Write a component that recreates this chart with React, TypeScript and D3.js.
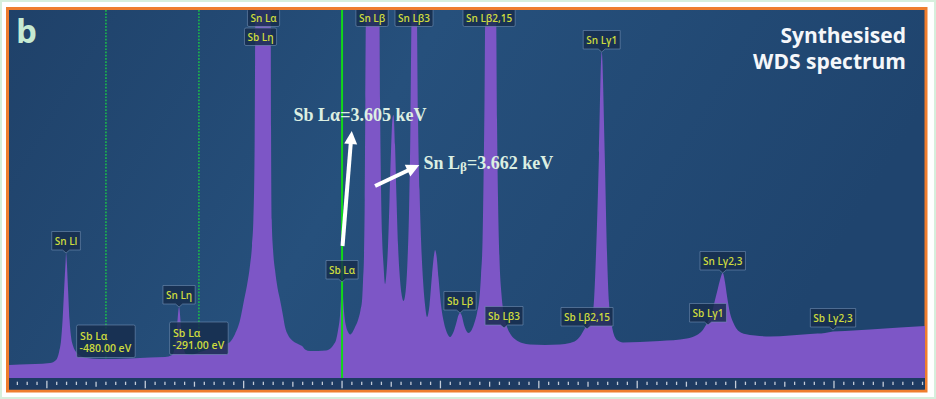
import React from "react";
import * as d3 from "d3";

const W = 936;
const H = 399;

// Traced spectrum: energy (keV) and intensity (counts)
const energyKeV = [
  2.9282, 2.9505, 2.981, 3.0115, 3.0237, 3.0298, 3.0339, 3.0369, 3.04, 3.043, 3.044, 3.0455, 3.0481, 3.0511,
  3.0542, 3.0583, 3.0644, 3.0725, 3.0867, 3.1131, 3.1436, 3.1741, 3.1944, 3.2148, 3.2453, 3.2595, 3.2656,
  3.2696, 3.2737, 3.2778, 3.2818, 3.2879, 3.3001, 3.3164, 3.3367, 3.357, 3.3692, 3.3774, 3.3875, 3.3977,
  3.4058, 3.4119, 3.418, 3.4221, 3.4247, 3.4272, 3.4282, 3.429, 3.4444, 3.4599, 3.4607, 3.4621, 3.4648,
  3.4688, 3.4739, 3.479, 3.4851, 3.4891, 3.4952, 3.5028, 3.5115, 3.5196, 3.5237, 3.5298, 3.54, 3.5562,
  3.5725, 3.5826, 3.5887, 3.5928, 3.5969, 3.6009, 3.603, 3.605, 3.607, 3.6091, 3.6131, 3.6172, 3.6213,
  3.6253, 3.6314, 3.6375, 3.6426, 3.6457, 3.6477, 3.6497, 3.6511, 3.6524, 3.6538, 3.667, 3.6808, 3.6822,
  3.6843, 3.6863, 3.6893, 3.6924, 3.6954, 3.6985, 3.7015, 3.7046, 3.7076, 3.7097, 3.7127, 3.7158, 3.7188,
  3.7229, 3.727, 3.73, 3.7341, 3.7381, 3.7412, 3.7442, 3.7467, 3.7513, 3.7568, 3.7595, 3.7625, 3.7656,
  3.7696, 3.7737, 3.7778, 3.7828, 3.7879, 3.792, 3.794, 3.7971, 3.8011, 3.8062, 3.8123, 3.8184, 3.8245,
  3.8306, 3.8367, 3.8418, 3.8448, 3.8479, 3.853, 3.8591, 3.8621, 3.8672, 3.8733, 3.8794, 3.8845, 3.8875,
  3.8906, 3.8926, 3.8946, 3.8963, 3.9058, 3.918, 3.92, 3.9221, 3.9251, 3.9292, 3.9343, 3.9404, 3.9485,
  3.9587, 3.9709, 3.9871, 4.0176, 4.0481, 4.0684, 4.0806, 4.0908, 4.099, 4.107, 4.1131, 4.1172, 4.1213,
  4.1274, 4.1328, 4.1389, 4.1436, 4.1477, 4.1538, 4.1639, 4.1761, 4.2107, 4.2513, 4.3061, 4.3265, 4.3367,
  4.3448, 4.3509, 4.357, 4.3631, 4.3672, 4.3733, 4.3788, 4.3834, 4.3875, 4.3936, 4.3997, 4.4058, 4.4139,
  4.4241, 4.4444, 4.4749, 4.5156, 4.5562, 4.5867, 4.603, 4.6273, 4.6782, 4.7391, 4.79,
];
const intensity = [
  130, 135, 140, 150, 180, 260, 380, 580, 880, 1160, 1250, 1160, 880, 580,
  410, 320, 260, 225, 200, 190, 190, 195, 200, 205, 210, 230, 330,
  500, 710, 500, 330, 240, 235, 260, 290, 315, 340, 360, 440, 580,
  780, 930, 1130, 1330, 1580, 2280, 3180, 3730, 3980, 3730, 2480, 1580, 1280,
  1080, 900, 780, 620, 510, 430, 380, 350, 330, 320, 285, 270, 270,
  275, 300, 340, 380, 480, 630, 800, 960, 810, 660, 520, 460, 435,
  450, 510, 580, 680, 780, 980, 1250, 1780, 2780, 3730, 3980, 3730, 2780,
  1880, 1430, 1130, 940, 1060, 1330, 1780, 2280, 2600, 2630, 2330, 1780, 1330,
  980, 810, 770, 860, 1180, 1680, 2580, 3730, 3980, 3730, 2580, 1880, 1380,
  980, 730, 610, 730, 1030, 1230, 1280, 1220, 1000, 730, 550, 450, 410,
  450, 540, 630, 650, 630, 530, 460, 450, 470, 540, 650, 810, 1030,
  1380, 1980, 2780, 3730, 3980, 3730, 2580, 1780, 1180, 830, 630, 510, 430,
  380, 350, 335, 330, 335, 350, 375, 430, 500, 550, 600, 780, 1250,
  2250, 3260, 2250, 1250, 750, 510, 380, 355, 360, 370, 395, 430, 470,
  530, 580, 650, 780, 860, 980, 1050, 960, 820, 650, 560, 500, 460,
  440, 425, 415, 425, 440, 450, 465, 470, 485, 505, 520,
];

// Peak labels with pointer (tip at energy / intensity)
const peakLabels = [
  { text: "Sn Ll", e: 3.044, i: 1250 },
  { text: "Sn Lη", e: 3.2737, i: 710 },
  { text: "Sb Lα", e: 3.605, i: 960 },
  { text: "Sb Lβ", e: 3.8448, i: 650 },
  { text: "Sb Lβ3", e: 3.9343, i: 500 },
  { text: "Sb Lβ2,15", e: 4.103, i: 490 },
  { text: "Sn Lγ1", e: 4.1328, i: 3260 },
  { text: "Sb Lγ1", e: 4.3489, i: 530 },
  { text: "Sn Lγ2,3", e: 4.3788, i: 1050 },
  { text: "Sb Lγ2,3", e: 4.603, i: 480 },
];

// Labels for peaks running off the top
const topLabels = [
  { text: "Sn Lα", e: 3.4454, row: 0 },
  { text: "Sb Lη", e: 3.4393, row: 1 },
  { text: "Sn Lβ", e: 3.666, row: 0 },
  { text: "Sn Lβ3", e: 3.7513, row: 0 },
  { text: "Sn Lβ2,15", e: 3.9039, row: 0 },
];

// Offset markers relative to Sb Lα
const sbLaKeV = 3.605;
const offsetsEV = [-480, -291];
const offsetBoxTop = [530, 560];

const x = d3.scaleLinear().domain([2.928, 4.79]).range([9, 925]);
const y = d3.scaleLinear().domain([0, 3680]).range([378, 10]);

const tickEnergies = d3.range(93).map((k) => 2.945 + 0.02 * k);

let ctx: CanvasRenderingContext2D | null = null;
function textW(t: string, font: string) {
  if (!ctx) ctx = document.createElement("canvas").getContext("2d");
  if (!ctx) return t.length * 5.3;
  ctx.font = font;
  return ctx.measureText(t).width;
}

const LABEL_FONT = "600 10px 'Open Sans'";
const LABEL_FILL = "rgba(22,44,76,0.82)";
const LABEL_STROKE = "rgba(120,150,185,0.55)";
const LABEL_TEXT = "#cddb3e";

function Arrow({ x1, y1, x2, y2 }: { x1: number; y1: number; x2: number; y2: number }) {
  const dx = x2 - x1;
  const dy = y2 - y1;
  const len = Math.hypot(dx, dy);
  const ux = dx / len;
  const uy = dy / len;
  const hl = 13;
  const hw = 6.5;
  const bx = x2 - ux * hl;
  const by = y2 - uy * hl;
  const px = -uy;
  const py = ux;
  return (
    <g>
      <line x1={x1} y1={y1} x2={bx + ux * 2} y2={by + uy * 2} stroke="#ffffff" strokeWidth={4} />
      <polygon
        points={`${x2},${y2} ${bx + px * hw},${by + py * hw} ${bx - px * hw},${by - py * hw}`}
        fill="#ffffff"
      />
    </g>
  );
}

export default function App() {
  const area = d3
    .area<number>()
    .x((_, k) => x(energyKeV[k]))
    .y0(y(0))
    .y1((d) => y(d))
    .curve(d3.curveMonotoneX)(intensity) as string;

  return (
    <div style={{ position: "fixed", left: 0, top: 0 }}>
      <svg width={W} height={H} viewBox={`0 0 ${W} ${H}`} style={{ display: "block" }}>
        <defs>
          <linearGradient id="bg" x1="0" y1="0" x2="1" y2="0.25">
            <stop offset="0" stopColor="#1f4169" />
            <stop offset="0.45" stopColor="#26507c" />
            <stop offset="1" stopColor="#1f446e" />
          </linearGradient>
          <clipPath id="plot">
            <rect x={9} y={10} width={916} height={368} />
          </clipPath>
        </defs>
        <rect x={0} y={0} width={W} height={H} fill="#ffffff" />
        <rect x={1} y={1} width={W - 2} height={H - 2} fill="none" stroke="#d6efdc" strokeWidth={2} />
        <rect x={7.5} y={8.5} width={918.5} height={382.5} fill="url(#bg)" stroke="#ef7d2d" strokeWidth={3} />

        <g clipPath="url(#plot)">
          {/* dotted offset lines */}
          {offsetsEV.map((o, k) => (
            <line
              key={"d" + k}
              x1={x(sbLaKeV + o / 1000)}
              x2={x(sbLaKeV + o / 1000)}
              y1={10}
              y2={378}
              stroke="#1bb34c"
              strokeWidth={1.7}
              strokeDasharray="1.7 1.5"
            />
          ))}
          <path d={area} fill="#7d56c6" />
          <line x1={x(sbLaKeV)} x2={x(sbLaKeV)} y1={10} y2={378} stroke="#12d61a" strokeWidth={2} />

          {/* top labels */}
          {topLabels.map((l, k) => {
            const w = textW(l.text, LABEL_FONT) + 6;
            const cx = x(l.e);
            const top = l.row === 0 ? 9 : 28;
            return (
              <g key={"t" + k}>
                <rect x={cx - w / 2} y={top} width={w} height={17.5} rx={1.5} fill={LABEL_FILL} stroke={LABEL_STROKE} strokeWidth={1} />
                <text x={cx} y={top + 12.5} textAnchor="middle" fill={LABEL_TEXT} fontFamily="'Open Sans'" fontWeight={600} fontSize={10}>
                  {l.text}
                </text>
              </g>
            );
          })}
        </g>

        {/* axis strip */}
        <rect x={9} y={378} width={916} height={11.5} fill="#1e3b62" />
        {tickEnergies.map((e, k) => {
          const m = (((k - 3) % 10) + 10) % 10;
          const major = m === 0;
          const mid = m === 5;
          const y1 = major ? 380.7 : 381.7;
          const y2 = major ? 388.3 : mid ? 386.7 : 385;
          return <line key={"k" + k} x1={x(e)} x2={x(e)} y1={y1} y2={y2} stroke="#c3cbd8" strokeWidth={1.3} />;
        })}

        {/* offset boxes */}
        {offsetsEV.map((o, k) => {
          const cx = x(sbLaKeV + o / 1000);
          const l2 = `${o.toFixed(2)} eV`;
          const w = textW(l2, "600 10.5px 'Open Sans'") + 7;
          const top = y(offsetBoxTop[k]);
          return (
            <g key={"o" + k}>
              <rect x={cx - w / 2} y={top} width={w} height={32.5} rx={1.5} fill={LABEL_FILL} stroke={LABEL_STROKE} strokeWidth={1} />
              <text x={cx - w / 2 + 3.5} y={top + 14.5} fill={LABEL_TEXT} fontFamily="'Open Sans'" fontWeight={600} fontSize={10.5}>
                Sb Lα
              </text>
              <text x={cx - w / 2 + 3} y={top + 27} fill={LABEL_TEXT} fontFamily="'Open Sans'" fontWeight={600} fontSize={10.5}>
                {l2}
              </text>
            </g>
          );
        })}

        {/* pointer labels */}
        {peakLabels.map((l, k) => {
          const w = textW(l.text, LABEL_FONT) + 6;
          const cx = x(l.e);
          const tip = y(l.i);
          const bottom = tip - 3;
          const top = bottom - 18.5;
          const path = `M${cx - w / 2},${top} H${cx + w / 2} V${bottom} H${cx + 3.5} L${cx},${tip} L${cx - 3.5},${bottom} H${cx - w / 2} Z`;
          return (
            <g key={"p" + k}>
              <path d={path} fill={LABEL_FILL} stroke={LABEL_STROKE} strokeWidth={1} />
              <text x={cx} y={top + 13} textAnchor="middle" fill={LABEL_TEXT} fontFamily="'Open Sans'" fontWeight={600} fontSize={10}>
                {l.text}
              </text>
            </g>
          );
        })}

        {/* annotations */}
        <Arrow x1={x(3.606)} y1={y(1320)} x2={x(3.6247)} y2={y(2470)} />
        <Arrow x1={x(3.6721)} y1={y(1920)} x2={x(3.7621)} y2={y(2130)} />
        <text x={x(3.5065)} y={y(2570)} fill="#dcefe2" fontFamily="'Liberation Serif', 'Times New Roman', serif" fontWeight={700} fontSize={18}>
          Sb Lα=3.605 keV
        </text>
        <text x={x(3.7706)} y={y(2090)} fill="#dcefe2" fontFamily="'Liberation Serif', 'Times New Roman', serif" fontWeight={700} fontSize={18}>
          <tspan>Sn L</tspan>
          <tspan fontSize={13} dy={2}>β</tspan>
          <tspan dy={-2}>=3.662 keV</tspan>
        </text>

        {/* panel letter and title */}
        <text x={16} y={43} fill="#c6ead2" fontFamily="'Open Sans'" fontWeight={700} fontSize={33}>
          b
        </text>
        <text textAnchor="end" fill="#f5f7fa" fontFamily="'Open Sans'" fontWeight={700} fontSize={21}>
          <tspan x={906} y={42.7}>Synthesised</tspan>
          <tspan x={906} y={69}>WDS spectrum</tspan>
        </text>
      </svg>
    </div>
  );
}
